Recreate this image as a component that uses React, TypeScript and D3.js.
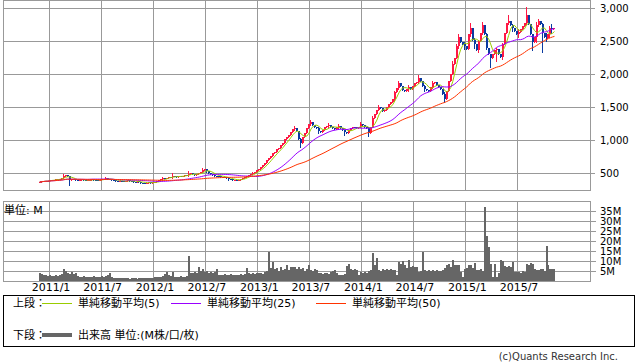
import React, { useEffect, useRef } from 'react';
import * as d3 from 'd3';

// weekly candles, first week ending 2010-11-26
const startWeek = new Date(2010, 10, 26);

const weeklyClose = [
  365, 372, 378, 385, 380, 392, 398, 395, 402, 408,
  415, 430, 455, 470, 448, 395, 405, 412, 400, 395,
  398, 402, 392, 388, 395, 400, 405, 398, 392, 388,
  398, 405, 412, 420, 410, 402, 396, 392, 386, 380,
  385, 378, 372, 380, 388, 382, 375, 370, 368, 372,
  362, 355, 350, 348, 355, 360, 352, 358, 365, 375,
  390, 410, 425, 418, 430, 445, 438, 452, 448, 440,
  455, 448, 462, 475, 468, 488, 495, 480, 470, 485,
  505, 520, 545, 560, 530, 495, 478, 470, 462, 455,
  450, 445, 438, 432, 420, 410, 402, 395, 400, 392,
  398, 410, 425, 440, 455, 470, 490, 505, 520, 545,
  560, 590, 620, 650, 690, 720, 760, 800, 820, 860,
  880, 920, 960, 1010, 1040, 1080, 1120, 1160, 1180, 1140,
  1020, 960, 1040, 1110, 1180, 1240, 1270, 1230, 1200, 1180,
  1140, 1120, 1150, 1190, 1210, 1230, 1200, 1180, 1160, 1200,
  1210, 1180, 1150, 1120, 1100, 1150, 1180, 1200, 1190, 1180,
  1200, 1240, 1220, 1200, 1180, 1110, 1200, 1340, 1400, 1460,
  1500, 1480, 1440, 1460, 1500, 1540, 1580, 1620, 1720, 1790,
  1860, 1820, 1760, 1740, 1770, 1800, 1780, 1820, 1860, 1880,
  1940, 1900, 1820, 1780, 1760, 1750, 1800, 1860, 1880, 1840,
  1800, 1780, 1700, 1620, 1750, 1900, 2000, 2150, 2250, 2420,
  2560, 2480, 2450, 2420, 2380, 2600, 2700, 2520, 2450, 2360,
  2500, 2620, 2740, 2600, 2400, 2300, 2240, 2300, 2360, 2380,
  2300, 2260, 2450, 2620, 2780, 2800, 2750, 2700, 2650, 2600,
  2640, 2680, 2720, 2780, 2900, 2760, 2600, 2480, 2560, 2740,
  2800, 2760, 2620, 2560, 2540, 2600, 2700, 2680, 2700,
];

// notable wicks: [week index, high, low]
const wicks: [number, number, number][] = [
  [5, 400, 378], [12, 485, 440], [15, 452, 320], [20, 410, 388],
  [33, 432, 405], [45, 395, 372], [62, 440, 405], [67, 500, 430],
  [75, 530, 462], [82, 575, 515], [84, 560, 510], [95, 425, 395],
  [107, 520, 490], [128, 1210, 1150], [131, 1030, 900], [136, 1300, 1225],
  [140, 1190, 1110], [145, 1260, 1200], [150, 1240, 1170], [153, 1155, 1070],
  [161, 1270, 1190], [165, 1190, 1060], [167, 1360, 1200], [170, 1530, 1450],
  [178, 1740, 1600], [180, 1890, 1780], [185, 1830, 1740], [190, 1990, 1870],
  [193, 1830, 1740], [197, 1900, 1790], [203, 1720, 1580], [207, 2200, 2000],
  [209, 2450, 2250], [210, 2600, 2400], [213, 2480, 2380], [216, 2770, 2580],
  [218, 2540, 2400], [220, 2520, 2340], [222, 2790, 2600], [224, 2620, 2380],
  [226, 2310, 2100], [229, 2400, 2200], [232, 2470, 2230], [235, 2890, 2760],
  [237, 2760, 2650], [240, 2680, 2560], [244, 3010, 2760], [247, 2600, 2360],
  [249, 2790, 2480], [250, 2840, 2720], [252, 2770, 2330], [254, 2620, 2500],
  [256, 2720, 2560], [257, 2760, 2620],
];

// weekly volume, millions of shares
const weeklyVolume = [
  3.8, 3.6, 3.2, 2.8, 2.5, 2.9, 2.4, 2.7, 3.1, 2.6,
  2.8, 3.4, 6.0, 5.1, 4.0, 3.6, 4.3, 3.4, 3.8, 2.6,
  2.2, 1.9, 2.3, 2.0, 1.8, 2.1, 1.9, 2.4, 2.0, 1.8,
  2.1, 2.3, 2.0, 2.6, 3.0, 3.8, 2.2, 1.6, 1.5, 1.7,
  1.4, 1.5, 1.3, 1.6, 1.4, 1.2, 1.5, 1.3, 1.4, 1.2,
  1.3, 1.5, 1.4, 1.6, 1.3, 1.5, 1.7, 1.6, 1.9, 1.8,
  2.0, 1.8, 2.4, 3.3, 4.5, 3.0, 2.6, 4.3, 2.2, 2.0,
  1.9, 2.3, 2.1, 2.0, 2.4, 12.5, 4.2, 3.8, 4.6, 3.9,
  7.2, 5.0, 6.0, 4.5, 4.8, 4.2, 4.6, 3.9, 4.4, 6.0,
  3.2, 2.8, 3.0, 3.3, 2.9, 3.1, 3.4, 2.8, 3.0, 3.2,
  3.0, 3.4, 3.1, 3.5, 6.3, 4.0, 3.6, 3.9, 3.4, 4.1,
  3.8, 4.2, 3.6, 4.4, 5.0, 14.7, 6.5, 9.7, 5.8, 6.4,
  5.2, 6.8, 5.5, 6.0, 8.2, 5.4, 7.0, 6.8, 7.2, 6.1,
  7.0, 5.8, 6.4, 5.2, 6.0, 8.2, 5.7, 5.2, 5.9, 5.4,
  3.8, 4.0, 3.6, 4.2, 3.9, 3.7, 4.4, 4.8, 5.7, 4.1,
  3.0, 3.2, 2.8, 3.4, 7.5, 8.7, 6.2, 5.6, 6.0, 5.3,
  3.0, 4.3, 4.0, 4.6, 4.2, 4.8, 5.5, 13.8, 8.0, 11.7,
  5.7, 5.2, 6.0, 5.4, 5.8, 5.5, 6.1, 5.3, 5.6, 3.0,
  9.7, 8.5, 10.0, 7.8, 6.5, 10.3, 7.0, 7.4, 6.8, 7.1,
  4.5, 5.0, 14.7, 5.3, 4.9, 5.6, 5.1, 5.5, 5.0, 5.4,
  4.8, 5.2, 5.6, 6.5, 8.0, 8.5, 6.8, 10.3, 8.2, 7.8,
  8.0, 4.5, 2.0, 6.0, 6.4, 7.8, 8.2, 6.5, 8.8, 5.6,
  5.4, 5.8, 5.2, 36.8, 22.7, 17.2, 8.7, 2.0, 8.7, 2.0,
  4.2, 10.3, 9.8, 7.5, 7.2, 7.6, 6.8, 9.7, 4.5, 4.4,
  4.6, 4.2, 4.8, 4.3, 8.5, 8.2, 8.9, 8.4, 6.0, 5.7,
  5.5, 6.0, 5.8, 5.2, 17.5, 8.0, 6.2, 5.8, 6.0,
];

const xTickDates = [
  new Date(2011, 0, 1), new Date(2011, 6, 1), new Date(2012, 0, 1), new Date(2012, 6, 1),
  new Date(2013, 0, 1), new Date(2013, 6, 1), new Date(2014, 0, 1), new Date(2014, 6, 1),
  new Date(2015, 0, 1), new Date(2015, 6, 1),
];
const priceTicks = [500, 1000, 1500, 2000, 2500, 3000];
const volumeTicks = [5, 10, 15, 20, 25, 30, 35];

const maSeries = [
  { period: 5, color: '#99cc00', label: '単純移動平均(5)' },
  { period: 25, color: '#9900ff', label: '単純移動平均(25)' },
  { period: 50, color: '#ff3300', label: '単純移動平均(50)' },
];

const FONT = '"DejaVu Sans", "Noto Sans CJK JP", sans-serif';

interface Candle {
  date: Date;
  open: number;
  close: number;
  high: number;
  low: number;
  volume: number;
}

export default function App() {
  const ref = useRef<SVGSVGElement>(null);

  useEffect(() => {
    const svg = d3.select(ref.current);
    svg.selectAll('*').remove();

    const frame = { left: 3, right: 590, top: 0, bottom: 190 };
    const vFrame = { top: 201, bottom: 281 };

    const candles: Candle[] = weeklyClose.map((c, i) => {
      const open = i === 0 ? c : weeklyClose[i - 1];
      const w = wicks.find((d) => d[0] === i);
      return {
        date: d3.timeWeek.offset(startWeek, i),
        open,
        close: c,
        high: Math.max(open, c, w ? w[1] : 0),
        low: Math.min(open, c, w ? w[2] : Infinity),
        volume: weeklyVolume[i],
      };
    });

    const x = d3
      .scaleTime()
      .domain([new Date(2011, 0, 1), new Date(2015, 6, 1)])
      .range([49, 517]);
    const y = d3.scaleLinear().domain([500, 3000]).range([173, 8]);
    const yv = d3.scaleLinear().domain([0, 35]).range([281, 211]);

    svg.append('rect').attr('width', 638).attr('height', 362).attr('fill', '#fff');

    const grid = svg.append('g').attr('stroke', '#999').attr('shape-rendering', 'crispEdges');

    // price grid
    grid
      .selectAll('line.py')
      .data(priceTicks)
      .enter()
      .append('line')
      .attr('x1', frame.left)
      .attr('x2', frame.right + 5)
      .attr('y1', (d) => Math.round(y(d)) + 0.5)
      .attr('y2', (d) => Math.round(y(d)) + 0.5);
    grid
      .selectAll('line.vy')
      .data(volumeTicks)
      .enter()
      .append('line')
      .attr('x1', frame.left)
      .attr('x2', frame.right + 6)
      .attr('y1', (d) => Math.round(yv(d)) + 0.5)
      .attr('y2', (d) => Math.round(yv(d)) + 0.5);
    grid
      .selectAll('line.px')
      .data(xTickDates)
      .enter()
      .append('line')
      .attr('x1', (d) => Math.round(x(d)) + 0.5)
      .attr('x2', (d) => Math.round(x(d)) + 0.5)
      .attr('y1', frame.top)
      .attr('y2', frame.bottom);
    grid
      .selectAll('line.vx')
      .data(xTickDates)
      .enter()
      .append('line')
      .attr('x1', (d) => Math.round(x(d)) + 0.5)
      .attr('x2', (d) => Math.round(x(d)) + 0.5)
      .attr('y1', vFrame.top)
      .attr('y2', vFrame.bottom);

    // candles
    const cg = svg.append('g').attr('shape-rendering', 'crispEdges');
    const color = (d: Candle) => (d.close >= d.open ? '#ff1744' : '#0a3aa0');
    cg.selectAll('line')
      .data(candles)
      .enter()
      .append('line')
      .attr('x1', (d) => Math.round(x(d.date)) + 0.5)
      .attr('x2', (d) => Math.round(x(d.date)) + 0.5)
      .attr('y1', (d) => y(d.high))
      .attr('y2', (d) => y(d.low) + 1)
      .attr('stroke', color);
    cg.selectAll('rect')
      .data(candles)
      .enter()
      .append('rect')
      .attr('x', (d) => Math.round(x(d.date)) - 0)
      .attr('width', 2)
      .attr('y', (d) => y(Math.max(d.open, d.close)))
      .attr('height', (d) => Math.max(1, Math.abs(y(d.open) - y(d.close))))
      .attr('fill', color);

    // moving averages
    const line = d3
      .line<[Date, number]>()
      .x((d) => x(d[0]) + 1)
      .y((d) => y(d[1]));
    maSeries.forEach((m) => {
      const pts: [Date, number][] = candles.map((c, i) => {
        const win = weeklyClose.slice(Math.max(0, i - m.period + 1), i + 1);
        return [c.date, d3.mean(win) as number];
      });
      svg
        .append('path')
        .datum(pts)
        .attr('d', line)
        .attr('fill', 'none')
        .attr('stroke', m.color)
        .attr('stroke-width', 1);
    });

    // volume
    svg
      .append('g')
      .attr('shape-rendering', 'crispEdges')
      .selectAll('rect')
      .data(candles)
      .enter()
      .append('rect')
      .attr('x', (d) => Math.round(x(d.date)))
      .attr('width', 2)
      .attr('y', (d) => yv(d.volume))
      .attr('height', (d) => yv(0) - yv(d.volume))
      .attr('fill', '#666');

    // frames
    svg
      .append('rect')
      .attr('x', frame.left + 0.5)
      .attr('y', frame.top + 0.5)
      .attr('width', frame.right - frame.left)
      .attr('height', frame.bottom - frame.top)
      .attr('fill', 'none')
      .attr('stroke', '#999');
    svg
      .append('rect')
      .attr('x', frame.left + 0.5)
      .attr('y', vFrame.top + 0.5)
      .attr('width', frame.right - frame.left)
      .attr('height', vFrame.bottom - vFrame.top)
      .attr('fill', 'none')
      .attr('stroke', '#999');

    const txt = svg.append('g').attr('font-family', FONT).attr('fill', '#000');

    txt
      .selectAll('text.py')
      .data(priceTicks)
      .enter()
      .append('text')
      .attr('x', 600)
      .attr('y', (d) => y(d))
      .attr('dy', '0.35em')
      .attr('font-size', 10)
      .text((d) => d3.format(',')(d));
    txt
      .selectAll('text.vy')
      .data(volumeTicks)
      .enter()
      .append('text')
      .attr('x', 600)
      .attr('y', (d) => yv(d))
      .attr('dy', '0.35em')
      .attr('font-size', 10)
      .text((d) => `${d}M`);
    txt
      .selectAll('text.x')
      .data(xTickDates)
      .enter()
      .append('text')
      .attr('x', (d) => x(d) + 2)
      .attr('y', 291)
      .attr('text-anchor', 'middle')
      .attr('font-size', 11)
      .text((d) => `${d.getFullYear()}/${d.getMonth() + 1}`);

    txt.append('text').attr('x', 4).attr('y', 214).attr('font-size', 11).text('単位: M');

    // legend
    svg
      .append('rect')
      .attr('x', 3.5)
      .attr('y', 295.5)
      .attr('width', 631)
      .attr('height', 51)
      .attr('fill', 'none')
      .attr('stroke', '#000');
    txt.append('text').attr('x', 13).attr('y', 307).attr('font-size', 11).text('上段：');
    const legendX = [42, 171, 316];
    maSeries.forEach((m, i) => {
      svg
        .append('line')
        .attr('x1', legendX[i])
        .attr('x2', legendX[i] + 30)
        .attr('y1', 303.5)
        .attr('y2', 303.5)
        .attr('stroke', m.color);
      txt
        .append('text')
        .attr('x', legendX[i] + 36)
        .attr('y', 307)
        .attr('font-size', 11)
        .text(m.label);
    });
    txt.append('text').attr('x', 13).attr('y', 339).attr('font-size', 11).text('下段：');
    svg
      .append('line')
      .attr('x1', 42)
      .attr('x2', 72)
      .attr('y1', 335)
      .attr('y2', 335)
      .attr('stroke', '#666')
      .attr('stroke-width', 4);
    txt
      .append('text')
      .attr('x', 78)
      .attr('y', 339)
      .attr('font-size', 11)
      .text('出来高 単位:(M株/口/枚)');

    txt
      .append('text')
      .attr('x', 618)
      .attr('y', 360)
      .attr('text-anchor', 'end')
      .attr('font-size', 10)
      .attr('fill', '#333')
      .text('(c)Quants Research Inc.');
  }, []);

  return (
    <svg
      ref={ref}
      width={638}
      height={362}
      style={{ position: 'absolute', left: 0, top: 0, display: 'block' }}
    />
  );
}
